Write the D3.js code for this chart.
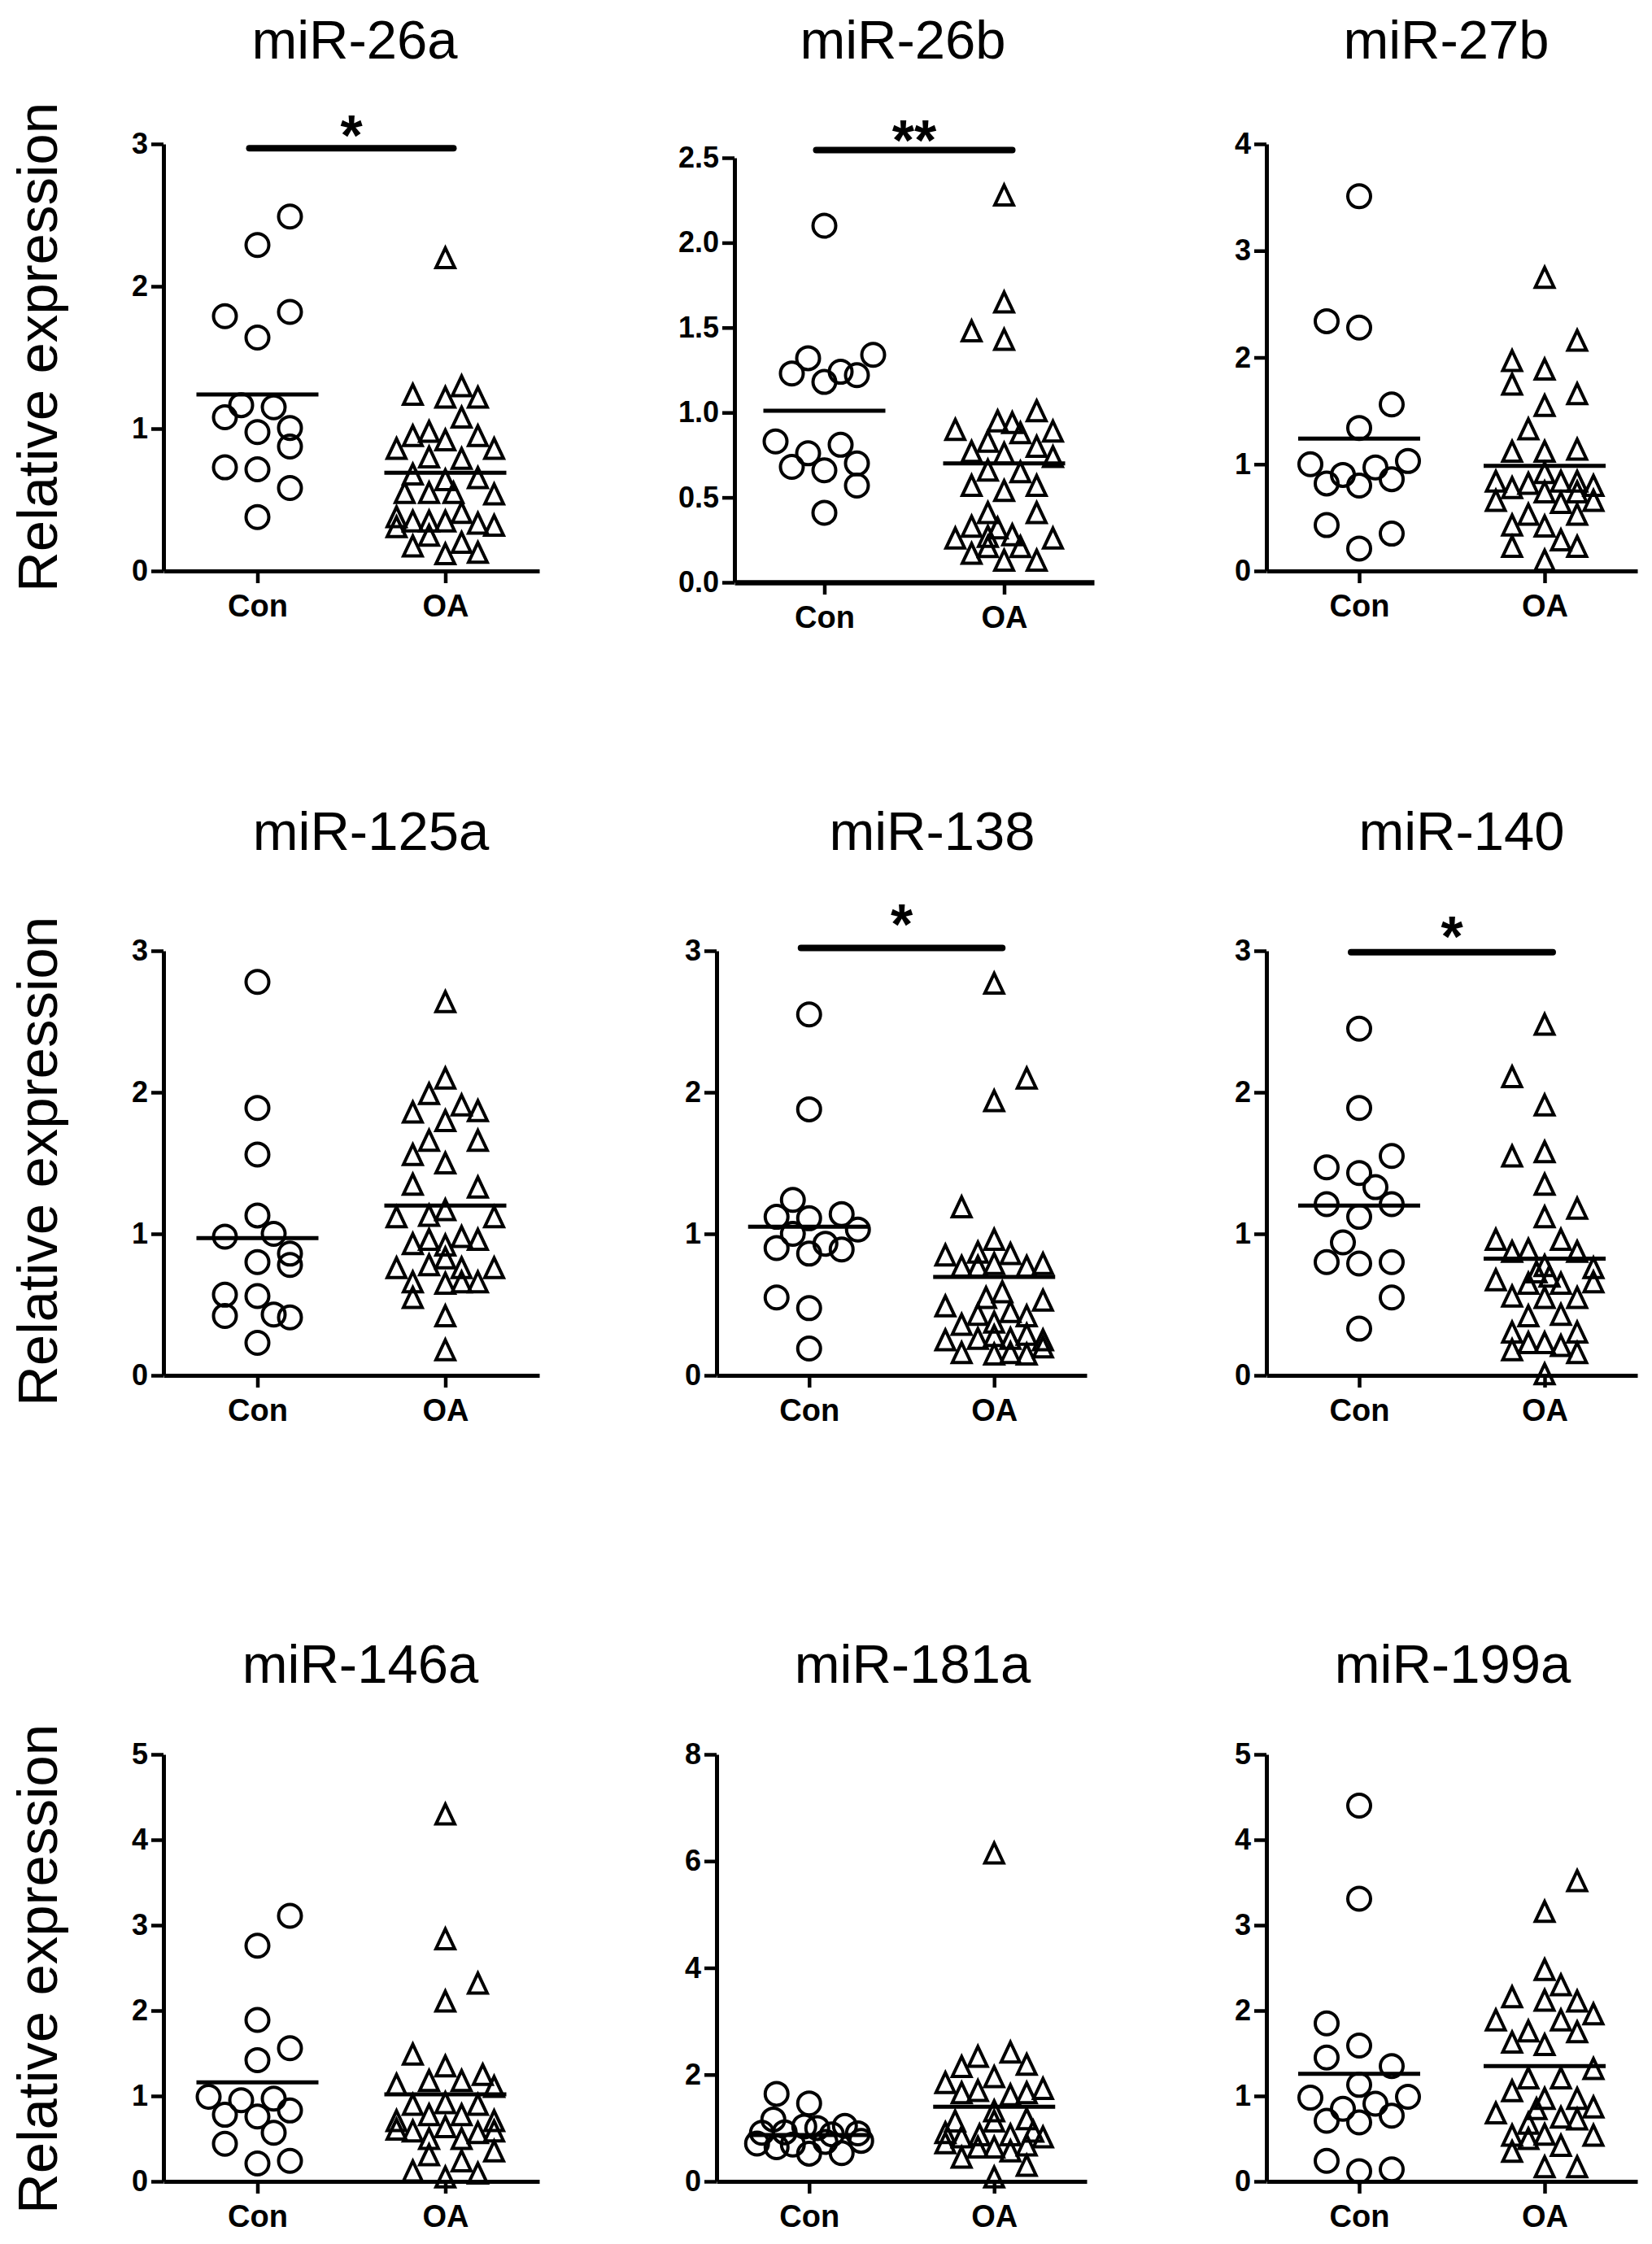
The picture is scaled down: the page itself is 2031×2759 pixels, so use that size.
<!DOCTYPE html>
<html>
<head>
<meta charset="utf-8">
<script src="https://cdn.jsdelivr.net/npm/d3@7"></script>
<style>
  body { margin: 0; background: #fff; }
  text { font-family: "Liberation Sans", Arial, sans-serif; }
</style>
</head>
<body>
<div id="chart"></div>
<script>
// ---- data ----
const groups = ["Con", "OA"];
const titles = ["miR-26a", "miR-26b", "miR-27b", "miR-125a", "miR-138", "miR-140", "miR-146a", "miR-181a", "miR-199a"];
const yMax = [3, 2.5, 4, 3, 3, 3, 5, 8, 5];
const yStep = [1, 0.5, 1, 1, 1, 1, 1, 2, 1];
const conMeans = [1.24, 1.01, 1.24, 0.97, 1.05, 1.20, 1.16, 0.87, 1.26];
const oaMeans = [0.69, 0.70, 0.985, 1.20, 0.695, 0.825, 1.02, 1.40, 1.35];
const stars = ["*", "**", "", "", "*", "*", "", "", ""];
const sigLevel = [2.97, 2.545, null, null, 3.02, 2.99, null, null, null];

// each point: [relative expression, lane] (lane = sideways slot in the dot column)
const con26a = [[2.49,2],[2.29,0],[1.79,-2],[1.82,2],[1.64,0],[1.165,-1],[1.15,1],[1.08,-2],[0.976,0],[1.005,2],[0.874,2],[0.728,-2],[0.714,0],[0.583,2],[0.379,0]];
const oa26a = [[2.20,0],[1.24,-2],[1.22,0],[1.30,1],[1.22,2],[1.08,1],[0.95,-2],[0.98,-1],[0.92,0],[0.95,2],[0.86,-3],[0.86,3],[0.80,-1],[0.79,1],[0.68,-2],[0.64,0],[0.655,2],[0.55,-2.5],[0.55,-1],[0.55,0.5],[0.54,3],[0.41,1],[0.38,-3],[0.35,-2],[0.35,-1],[0.35,0],[0.335,2],[0.32,3],[0.31,-3],[0.25,-1],[0.175,-2],[0.20,1],[0.12,0],[0.13,2]];
const con26b = [[2.10,0],[1.32,-1],[1.23,-2],[1.18,0],[1.24,1],[1.22,2],[1.34,3],[0.83,-3],[0.76,-1],[0.81,1],[0.68,-2],[0.66,0],[0.70,2],[0.57,2],[0.41,0]];
const oa26b = [[2.28,0],[1.65,0],[1.48,-2],[1.43,0],[1.01,2],[0.90,-3],[0.95,-0.4],[0.94,0.5],[0.88,1],[0.89,3],[0.83,-1],[0.80,2],[0.77,-2],[0.76,0],[0.74,3],[0.66,-1],[0.65,1],[0.57,-2],[0.54,0],[0.57,2],[0.41,-1],[0.41,2],[0.33,-2],[0.32,-0.4],[0.26,-3],[0.27,-1],[0.28,0.5],[0.26,3],[0.17,-2],[0.21,-1],[0.21,1],[0.13,0],[0.13,2]];
const con27b = [[3.51,0],[2.34,-2],[2.28,0],[1.56,2],[1.34,0],[1.00,-3],[0.90,-1],[0.97,1],[1.03,3],[0.82,-2],[0.80,0],[0.86,2],[0.43,-2],[0.35,2],[0.21,0]];
const oa27b = [[2.75,0],[2.16,2],[1.97,-2],[1.89,0],[1.75,-2],[1.66,2],[1.55,0],[1.33,-1],[1.12,-2],[1.12,0],[1.14,2],[0.84,-3],[0.78,-2],[0.82,-1],[0.92,0],[0.84,1],[0.84,2],[0.80,3],[0.66,-3],[0.74,0],[0.64,1],[0.74,2],[0.66,3],[0.53,-1],[0.53,2],[0.43,-2],[0.42,0],[0.29,1],[0.23,-2],[0.23,2],[0.10,0]];
const con125a = [[2.78,0],[1.89,0],[1.56,0],[1.13,0],[0.98,-2],[1.00,1],[0.86,2],[0.80,0],[0.78,2],[0.57,-2],[0.56,0],[0.42,-2],[0.43,1],[0.41,2],[0.23,0]];
const oa125a = [[2.64,0],[2.10,0],[1.99,-1],[1.86,-2],[1.91,1],[1.87,2],[1.80,0],[1.66,-1],[1.66,2],[1.56,-2],[1.50,0],[1.35,-2],[1.33,2],[1.17,0],[1.12,-3],[1.13,-1],[1.12,3],[0.93,-2],[0.96,-1],[0.92,0],[0.98,1],[0.96,2],[0.83,0],[0.76,-3],[0.78,-1],[0.76,1],[0.76,3],[0.66,-2],[0.65,0],[0.66,1],[0.66,2],[0.55,-2],[0.42,0],[0.18,0]];
const con138 = [[2.55,0],[1.88,0],[1.24,-1],[1.12,-2],[1.11,0],[1.14,2],[1.03,3],[1.00,-1],[0.90,-2],[0.93,1],[0.86,0],[0.89,2],[0.55,-2],[0.475,0],[0.19,0]];
const oa138 = [[2.77,0],[2.10,2],[1.94,0],[1.19,-2],[0.96,0],[0.85,-3],[0.87,-1],[0.86,1],[0.77,-2],[0.79,0],[0.77,2],[0.79,3],[0.77,-1],[0.59,0.5],[0.55,-0.5],[0.53,3],[0.49,-3],[0.45,1],[0.43,-1],[0.42,2],[0.36,-2],[0.375,0],[0.25,-3],[0.26,-1],[0.28,0],[0.26,1],[0.25,3],[0.29,2],[0.16,-2],[0.15,0],[0.16,1],[0.15,2],[0.20,3]];
const con140 = [[2.45,0],[1.89,0],[1.55,2],[1.47,-2],[1.43,0],[1.33,1],[1.21,-2],[1.21,2],[1.12,0],[0.94,-1],[0.80,-2],[0.79,0],[0.80,2],[0.55,2],[0.33,0]];
const oa140 = [[2.48,0],[2.11,-2],[1.91,0],[1.55,-2],[1.58,0],[1.35,0],[1.18,2],[1.12,0],[0.96,-3],[0.96,1],[0.875,-2],[0.89,-1],[0.875,2],[0.775,0],[0.76,3],[0.675,-3],[0.73,-0.5],[0.70,0.3],[0.65,-1],[0.65,1],[0.66,3],[0.56,-2],[0.55,0],[0.55,2],[0.42,-1],[0.43,1],[0.305,-2],[0.305,2],[0.23,-1],[0.23,0],[0.21,1],[0.18,-2],[0.16,2],[0.01,0]];
const con146a = [[3.11,2],[2.76,0],[1.89,0],[1.56,2],[1.42,0],[0.99,-3],[0.95,-1],[0.97,1],[0.83,2],[0.78,-2],[0.76,0],[0.57,1],[0.44,-2],[0.21,0],[0.24,2]];
const oa146a = [[4.30,0],[2.84,0],[2.32,2],[2.11,0],[1.49,-2],[1.35,0],[1.25,2.3],[1.135,-3],[1.18,-1],[1.18,1],[1.11,3],[0.90,-2],[0.92,0],[0.90,2],[0.78,-1],[0.78,1],[0.71,-3],[0.71,3],[0.59,-2],[0.64,0],[0.57,2],[0.61,-3],[0.59,3],[0.50,-1],[0.50,1],[0.355,3],[0.31,-1],[0.24,1],[0.12,-2],[0.095,2],[0.05,0]];
const con181a = [[1.64,-2],[1.46,0],[1.16,-2.2],[1.04,2.2],[1.03,-0.3],[1.00,0.5],[0.91,-2.9],[0.90,3],[0.92,-1.5],[0.71,-3.2],[0.64,-2],[0.52,0],[0.53,2],[0.76,3.2],[0.69,-1],[0.74,1],[0.88,1.4]];
const oa181a = [[6.15,0],[2.42,1],[2.34,-1],[2.15,-2],[2.19,2],[1.96,0],[1.85,-3],[1.74,3],[1.66,-2],[1.70,-1],[1.62,1],[1.66,2],[1.32,0],[1.13,-2.4],[1.13,0],[1.17,2],[0.91,-3],[0.83,-2],[0.87,-0.9],[0.87,1],[0.83,3],[0.94,2.4],[0.72,-3],[0.64,0],[0.68,2],[0.45,-2],[0.57,1],[0.64,-1],[0.30,2],[0.08,0]];
const con199a = [[4.40,0],[3.31,0],[1.85,-2],[1.59,0],[1.45,-2],[1.35,2],[1.13,0],[0.98,-3],[0.99,3],[0.85,-1],[0.91,1],[0.71,-2],[0.69,0],[0.77,2],[0.24,-2],[0.12,0],[0.14,2]];
const oa199a = [[3.52,2],[3.16,0],[2.48,0],[2.30,1],[2.16,-2],[2.12,0],[2.11,2],[1.96,3],[1.89,-3],[1.89,1],[1.76,-1],[1.75,2],[1.63,-2],[1.60,0],[1.32,3],[1.21,-1],[1.21,1],[1.06,-2],[0.97,0],[0.97,2],[0.87,3],[0.80,-3],[0.85,-0.5],[0.75,1],[0.73,2],[0.68,-1],[0.54,-2],[0.55,0],[0.54,3],[0.50,-1],[0.42,1],[0.35,-2],[0.17,0],[0.17,2]];

const conSets = [con26a, con26b, con27b, con125a, con138, con140, con146a, con181a, con199a];
const oaSets = [oa26a, oa26b, oa27b, oa125a, oa138, oa140, oa146a, oa181a, oa199a];

// ---- layout (pixel frame of each panel) ----
const W = 2031, H = 2759;
const cols = [{ left: 201, right: 663 }, { left: 881, right: 1336 }, { left: 1557, right: 2013 }];
const rows = [{ top: 177, bottom: 702, titleY: 72, labelY: 427 },
              { top: 1169, bottom: 1691, titleY: 1045, labelY: 1428 },
              { top: 2157, bottom: 2682, titleY: 2069, labelY: 2421 }];
const titleX = [436, 1110, 1778, 456, 1146, 1797, 443, 1122, 1786];
const starDy = [9, 12, 0, 0, -5, 5, 0, 0, 0];
const LANE = 20;

const svg = d3.select("#chart").append("svg")
    .attr("width", W)
    .attr("height", H);
svg.append("rect").attr("width", W).attr("height", H).attr("fill", "#fff");

const circle = d3.symbol().type(d3.symbolCircle).size(Math.PI * 14 * 14);
const triangle = d3.symbol().type(d3.symbolTriangle).size(281);

titles.forEach((title, i) => {
    const col = cols[i % 3], row = rows[Math.floor(i / 3)];
    let left = col.left, right = col.right, top = row.top, bottom = row.bottom;
    // miR-26b panel sits a little lower / more to the right
    if (i === 1) { left = 903; right = 1345; top = 194; bottom = 716; }

    const g = svg.append("g");

    const y = d3.scaleLinear().domain([0, yMax[i]]).range([bottom, top]);
    const x = d3.scalePoint().domain(groups).range([left, right]).padding(0.5);

    const ticks = d3.range(0, yMax[i] + yStep[i] / 2, yStep[i]);
    const yAxis = d3.axisLeft(y)
        .tickValues(ticks)
        .tickSize(15)
        .tickSizeOuter(0)
        .tickPadding(4)
        .tickFormat(yStep[i] < 1 ? d3.format(".1f") : d3.format("d"));
    const xAxis = d3.axisBottom(x)
        .tickSize(15)
        .tickSizeOuter(0)
        .tickPadding(14);

    const ya = g.append("g").attr("transform", `translate(${left},0)`).call(yAxis);
    const xa = g.append("g").attr("transform", `translate(0,${bottom})`).call(xAxis);

    [ya, xa].forEach(a => {
        a.select(".domain").attr("stroke", "#000").attr("stroke-width", 5);
        a.selectAll(".tick line").attr("stroke", "#000").attr("stroke-width", 4.5);
        a.selectAll(".tick text")
            .attr("fill", "#000")
            .style("font-weight", "bold")
            .style("font-family", '"Liberation Sans", Arial, sans-serif');
    });
    ya.selectAll(".tick text").style("font-size", "36px");
    xa.selectAll(".tick text").style("font-size", "38px");
    if (i === 1) xa.select(".domain").attr("stroke-width", 6.5);

    // title
    g.append("text")
        .attr("x", titleX[i])
        .attr("y", row.titleY)
        .attr("text-anchor", "middle")
        .style("font-size", "67px")
        .text(title);

    // y label on the first column
    if (i % 3 === 0) {
        g.append("text")
            .attr("transform", `translate(70,${row.labelY}) rotate(-90)`)
            .attr("text-anchor", "middle")
            .style("font-size", "69px")
            .text("Relative expression");
    }

    // data points
    g.selectAll(".con")
        .data(conSets[i])
        .join("path")
        .attr("class", "con")
        .attr("d", circle)
        .attr("transform", d => `translate(${x("Con") + d[1] * LANE},${y(d[0])})`)
        .attr("fill", "none")
        .attr("stroke", "#000")
        .attr("stroke-width", 4);

    g.selectAll(".oa")
        .data(oaSets[i])
        .join("path")
        .attr("class", "oa")
        .attr("d", triangle)
        .attr("transform", d => `translate(${x("OA") + d[1] * LANE},${y(d[0]) + 4}) scale(0.9,1.1)`)
        .attr("vector-effect", "non-scaling-stroke")
        .attr("fill", "none")
        .attr("stroke", "#000")
        .attr("stroke-width", 4);

    // mean lines
    const means = [{ g: "Con", v: conMeans[i] }, { g: "OA", v: oaMeans[i] }];
    g.selectAll(".mean")
        .data(means)
        .join("line")
        .attr("class", "mean")
        .attr("x1", d => x(d.g) - 75)
        .attr("x2", d => x(d.g) + 75)
        .attr("y1", d => y(d.v))
        .attr("y2", d => y(d.v))
        .attr("stroke", "#000")
        .attr("stroke-width", 5);

    // significance bar
    if (stars[i]) {
        const by = y(sigLevel[i]);
        const x1 = x("Con") - 10, x2 = x("OA") + 10;
        g.append("line")
            .attr("x1", x1).attr("x2", x2)
            .attr("y1", by).attr("y2", by)
            .attr("stroke", "#000")
            .attr("stroke-width", 8)
            .attr("stroke-linecap", "round");
        g.append("text")
            .attr("x", (x1 + x2) / 2)
            .attr("y", by + starDy[i])
            .attr("text-anchor", "middle")
            .style("font-size", "70px")
            .style("font-weight", "bold")
            .text(stars[i]);
    }
});
</script>
</body>
</html>
